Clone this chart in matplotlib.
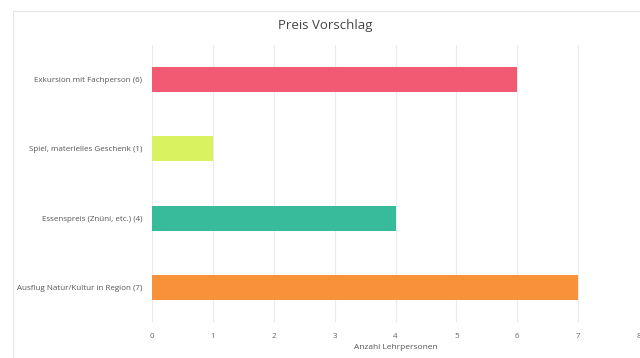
import matplotlib
matplotlib.use("Agg")
import matplotlib.pyplot as plt
from matplotlib.patches import Rectangle

categories = ["Exkursion mit Fachperson (6)", "Spiel, materielles Geschenk (1)",
              "Essenspreis (Znüni, etc.) (4)", "Ausflug Natur/Kultur in Region (7)"]
values = [6, 1, 4, 7]
colors = ["#F25A73", "#D9F25F", "#38BB9B", "#F7923A"]
x_ticks = [0, 1, 2, 3, 4, 5, 6, 7, 8]

plt.rcParams['font.family'] = ['Open Sans', 'DejaVu Sans']

fig = plt.figure(figsize=(6.4, 3.58), dpi=100)
W, H = 640, 358

# outer frame
fig.add_artist(Rectangle((13 / W, -0.1), 1.0, (H - 11) / H + 0.1, transform=fig.transFigure,
                         fill=False, edgecolor="#E6E6E6", linewidth=0.8))

ax = fig.add_axes([152 / W, (H - 322) / H, (639 - 152) / W, (322 - 45) / H])
ypos = list(range(len(categories)))
ax.barh(ypos, values, height=0.36, color=colors, zorder=3)
ax.set_ylim(3.5, -0.5)
ax.set_xlim(0, 8)
ax.set_yticks(ypos)
ax.set_yticklabels(categories, fontsize=5.8, color="#555555")
ax.set_xticks(x_ticks)
ax.set_xticklabels([str(t) for t in x_ticks], fontsize=5.8, color="#666666")
ax.tick_params(axis='y', length=0, pad=7)
ax.tick_params(axis='x', length=0, pad=8)
ax.grid(axis='x', color="#EBEBEB", linewidth=0.8, zorder=0)
for s in ax.spines.values():
    s.set_visible(False)
ax.set_xlabel("Anzahl Lehrpersonen", fontsize=6, color="#555555", labelpad=3)

fig.text(325 / W, (H - 25) / H, "Preis Vorschlag", ha='center', va='center',
         fontsize=9.5, color="#444444")

fig.savefig("out.png", dpi=100)
